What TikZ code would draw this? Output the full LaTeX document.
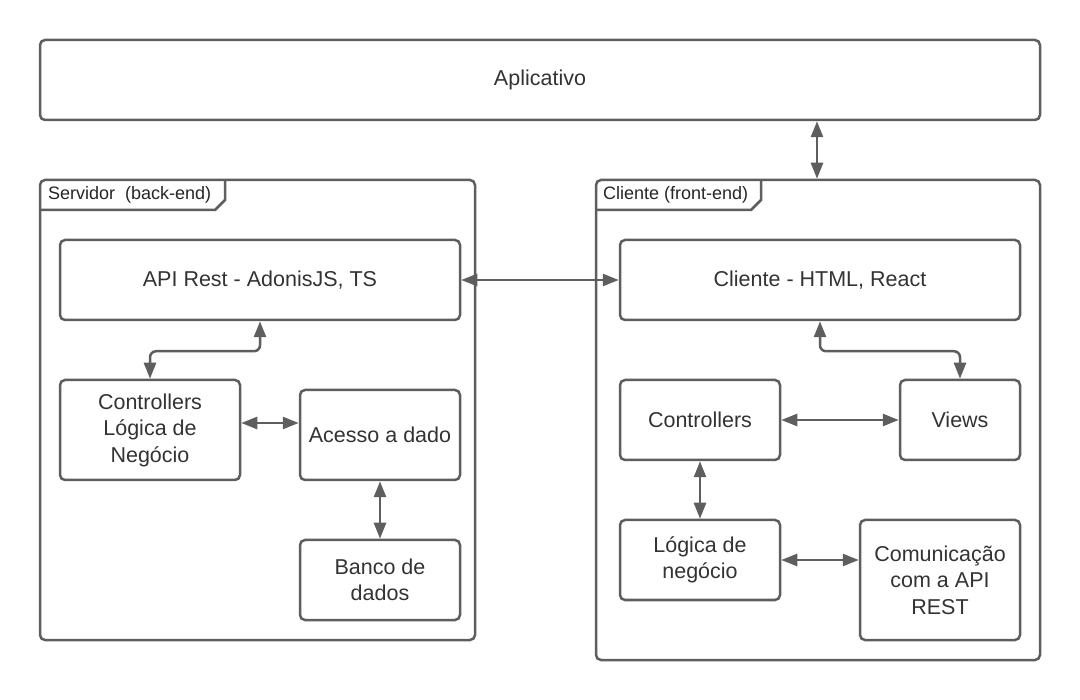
\documentclass[tikz,border=0pt]{standalone}
\usepackage{fontspec}
\setmainfont{Liberation Sans}
\usetikzlibrary{arrows.meta}
\definecolor{ln}{HTML}{5E5E5E}
\definecolor{tx}{HTML}{333333}
\begin{document}
\begin{tikzpicture}[x=1pt,y=-1pt,
  box/.style={draw=ln, line width=2.5pt, rounded corners=5pt, fill=white, text=tx,
    font=\fontsize{21.5}{26.5}\selectfont, align=center, inner sep=0pt},
  frame/.style={draw=ln, line width=2.5pt, rounded corners=5pt, inner sep=0pt},
  arr/.style={draw=ln, line width=2.5pt,
    {Triangle[length=16pt,width=12pt]}-{Triangle[length=16pt,width=12pt]}},
  tabline/.style={draw=ln, line width=2.5pt, line join=miter},
  tablbl/.style={text=black!85, font=\fontsize{18}{22}\selectfont, anchor=west, inner sep=0pt}]
\useasboundingbox (0,0) rectangle (1080,700);
\fill[white] (0,0) rectangle (1080,700);

% frames
\node[frame, minimum width=435pt, minimum height=460pt] (srv) at (257.5,410) {};
\node[frame, minimum width=444pt, minimum height=480pt] (clifr) at (818,420) {};
\draw[tabline] (40,210) -- (215,210) -- (225,200) -- (225,180);
\draw[tabline] (596,210) -- (751,210) -- (761,200) -- (761,180);
\node[tablbl] (srvlbl) at (48,195) {Servidor\ \ (back-end)};
\node[tablbl] (clilbl) at (603,195) {Cliente (front-end)};

% boxes
\node[box, minimum width=1000pt, minimum height=80pt] (app) at (540,80) {Aplicativo};
\node[box, minimum width=400pt, minimum height=80pt] (api) at (260,280) {API Rest - AdonisJS, TS};
\node[box, minimum width=400pt, minimum height=80pt] (cli) at (820,280) {Cliente - HTML, React};
\node[box, minimum width=180pt, minimum height=100pt] (sctl) at (150,430) {Controllers\\Lógica de\\Negócio};
\node[box, minimum width=160pt, minimum height=90pt] (acc) at (380,435) {Acesso a dado};
\node[box, minimum width=160pt, minimum height=80pt] (bd) at (380,580) {Banco de\\dados};
\node[box, minimum width=160pt, minimum height=80pt] (cctl) at (700,420) {Controllers};
\node[box, minimum width=120pt, minimum height=80pt] (views) at (960,420) {Views};
\node[box, minimum width=160pt, minimum height=80pt] (log) at (700,560) {Lógica de\\negócio};
\node[box, minimum width=160pt, minimum height=120pt] (com) at (940,580) {Comunicação\\com a API\\REST};

% connectors
\coordinate (xa) at (817,0);
\draw[arr] (app.south -| xa) -- (clifr.north -| xa);
\draw[arr] (api.east) -- (cli.west);
\draw[arr, rounded corners=6pt] (api.south) -- ++(0,30) -| (sctl.north);
\draw[arr, rounded corners=6pt] (cli.south) -- ++(0,30) -| (views.north);
\coordinate (a1) at ([yshift=7pt]sctl.east);
\draw[arr] (a1) -- (a1 -| acc.west);
\draw[arr] (acc.south) -- (bd.north);
\draw[arr] (cctl.east) -- (views.west);
\draw[arr] (cctl.south) -- (log.north);
\draw[arr] (log.east) -- (log.east -| com.west);
\end{tikzpicture}
\end{document}
